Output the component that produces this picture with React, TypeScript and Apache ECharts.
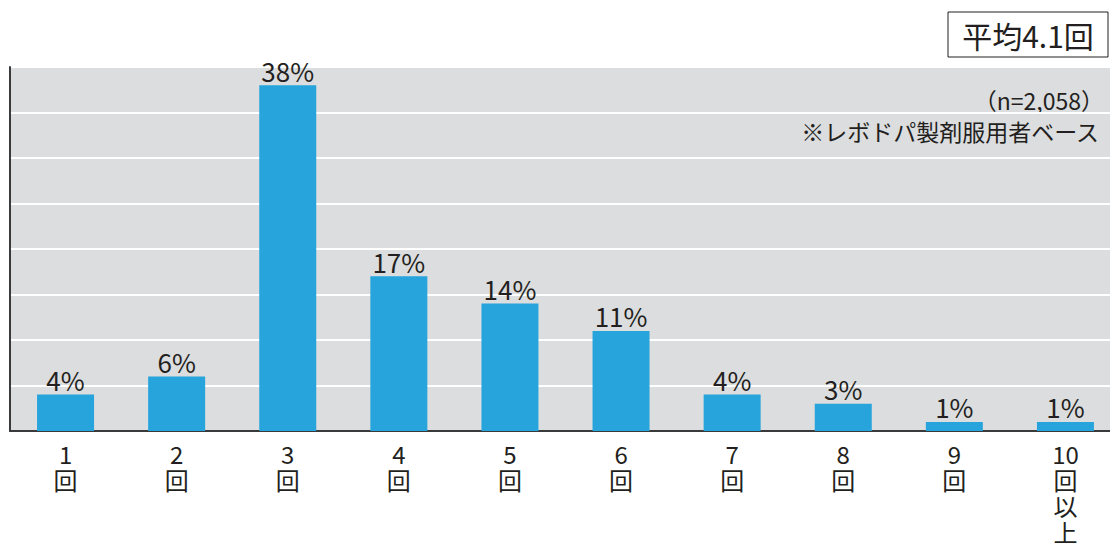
import React, { useEffect, useRef } from "react";
import * as echarts from "echarts";

const categories = ["1\n回", "2\n回", "3\n回", "4\n回", "5\n回", "6\n回", "7\n回", "8\n回", "9\n回", "10\n回\n以\n上"];
const values = [4, 6, 38, 17, 14, 11, 4, 3, 1, 1];
const averageLabel = "平均4.1回";
const sampleLabel = "（n=2,058）";
const baseLabel = "※レボドパ製剤服用者ベース";

const FONT = "'Noto Sans CJK JP', 'Noto Sans', sans-serif";

export default function App() {
  const ref = useRef<HTMLDivElement>(null);
  useEffect(() => {
    if (!ref.current) return;
    const chart = echarts.init(ref.current, undefined, { renderer: "svg" });
    chart.setOption({
      animation: false,
      backgroundColor: "#ffffff",
      textStyle: { fontFamily: FONT },
      grid: {
        left: 10,
        top: 67,
        width: 1111,
        height: 366,
        show: true,
        backgroundColor: "#dcdddf",
        borderWidth: 0,
      },
      xAxis: {
        type: "category",
        data: categories,
        axisLine: { show: true, lineStyle: { color: "#3a3a3a", width: 2 } },
        axisTick: { show: false },
        axisLabel: {
          color: "#231f20",
          fontSize: 24,
          lineHeight: 26,
          margin: 9,
          fontFamily: FONT,
          interval: 0,
        },
      },
      yAxis: {
        type: "value",
        min: 0,
        max: 40,
        interval: 5,
        axisLine: { show: true, lineStyle: { color: "#3a3a3a", width: 2 } },
        axisTick: { show: false },
        axisLabel: { show: false },
        splitLine: { show: true, lineStyle: { color: "#ffffff", width: 2 } },
      },
      series: [
        {
          type: "bar",
          data: values,
          barWidth: 57,
          itemStyle: { color: "#27a4dc" },
          label: {
            show: true,
            position: "top",
            distance: 2,
            formatter: "{c}%",
            color: "#231f20",
            fontSize: 26,
            fontFamily: FONT,
          },
        },
      ],
      graphic: [
        {
          type: "rect",
          shape: { x: 948, y: 12, width: 160, height: 45 },
          style: { fill: "#ffffff", stroke: "#231f20", lineWidth: 1 },
        },
        {
          type: "text",
          x: 1028,
          y: 35,
          style: {
            text: averageLabel,
            fill: "#231f20",
            font: `30px ${FONT}`,
            align: "center",
            verticalAlign: "middle",
          },
        },
        {
          type: "text",
          x: 1104,
          y: 100,
          style: {
            text: sampleLabel,
            fill: "#231f20",
            font: `23px ${FONT}`,
            align: "right",
            verticalAlign: "middle",
          },
        },
        {
          type: "text",
          x: 1099,
          y: 131,
          style: {
            text: baseLabel,
            fill: "#231f20",
            font: `23px ${FONT}`,
            align: "right",
            verticalAlign: "middle",
          },
        },
      ],
    });
    return () => chart.dispose();
  }, []);
  return (
    <div
      ref={ref}
      style={{ position: "fixed", left: 0, top: 0, width: 1130, height: 544 }}
    />
  );
}
